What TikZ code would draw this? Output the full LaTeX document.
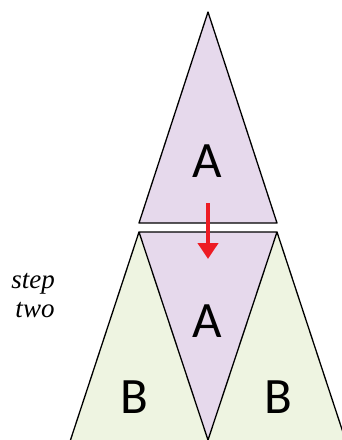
\documentclass[tikz,border=0pt]{standalone}
\usepackage{fontspec}
\newfontfamily\carlito{Carlito}
\newfontfamily\sideserif{Liberation Serif}
\usetikzlibrary{arrows.meta}
\definecolor{lav}{RGB}{230,217,236}
\definecolor{lgreen}{RGB}{238,244,225}
\definecolor{arrred}{RGB}{237,28,36}
\tikzset{
  edge/.style={draw=black, line width=1.3pt, line join=round},
  letter/.style={font=\carlito\fontsize{51}{51}\selectfont, anchor=base, inner sep=0pt},
  side/.style={font=\sideserif\itshape\fontsize{27}{27}\selectfont, anchor=base, inner sep=0pt},
}
\begin{document}
\begin{tikzpicture}[x=1pt,y=-1pt]
\useasboundingbox (0,0) rectangle (342,440);
\clip (0,0) rectangle (342,440);
% coordinates
\coordinate (tA) at (208,12);
\coordinate (tL) at (139,223);
\coordinate (tR) at (277,223);
\coordinate (iL) at (139,232);
\coordinate (iR) at (277,232);
\coordinate (iB) at (208,440);
\coordinate (bLL) at (70.5,440);
\coordinate (bRR) at (345.5,440);
% green triangles
\fill[lgreen] (iL) -- (bLL) -- (iB) -- cycle;
\fill[lgreen] (iR) -- (iB) -- (bRR) -- cycle;
\draw[edge] (iL) -- (bLL);
\draw[edge] (iR) -- (bRR);
% inverted A
\path[edge, fill=lav] (iL) -- (iR) -- (iB) -- cycle;
% top A
\path[edge, fill=lav] (tA) -- (tR) -- (tL) -- cycle;
% labels
\node[letter] (a1) at (207,177) {A};
\node[letter] (a2) at (207,337) {A};
\node[letter] (b1) at (134.5,413) {B};
\node[letter] (b2) at (278,413) {B};
\node[side] (s1) at (33,288) {step};
\node[side] (s2) at (35,317) {two};
% arrow
\coordinate (ar1) at (208,203);
\coordinate (ar2) at (208,259);
\draw[arrred, line width=4pt, -{Triangle[width=20pt,length=16pt]}] (ar1) -- (ar2);
\end{tikzpicture}
\end{document}
